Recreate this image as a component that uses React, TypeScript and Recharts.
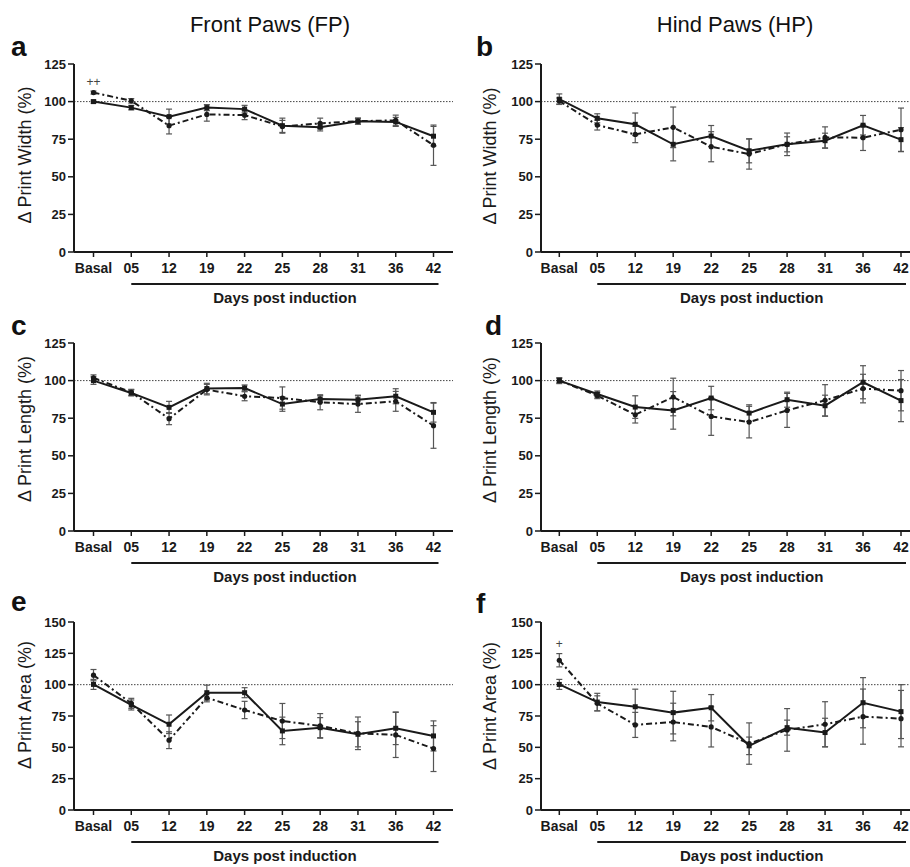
import React from 'react';
import { LineChart, Line, XAxis, YAxis, ErrorBar, ReferenceLine, LabelList } from 'recharts';

const days = ['Basal', '05', '12', '19', '22', '25', '28', '31', '36', '42'];
const ticks125 = [0, 25, 50, 75, 100, 125];
const ticks150 = [0, 25, 50, 75, 100, 125, 150];

// a: Front paws – print width
const fpWidthSolid = [100, 96, 90, 96, 95, 84, 83, 87, 86.5, 77];
const fpWidthSolidErr = [1, 1.5, 5, 2, 2.5, 5, 2.5, 2, 3, 6.5];
const fpWidthDash = [106, 100.5, 84, 91.5, 91, 83.5, 85.5, 87, 87.5, 71];
const fpWidthDashErr = [1, 1.5, 5.5, 4.5, 3, 4, 3.5, 2, 3.5, 13.4];
const fpWidthSig = ['++', '', '', '', '', '', '', '', '', ''];

// b: Hind paws – print width
const hpWidthSolid = [101.6, 88.9, 84.9, 71.6, 77.1, 67.3, 71.6, 74, 84.3, 74.7];
const hpWidthSolidErr = [3.5, 3, 7.5, 11, 7, 8, 7.5, 5, 6.5, 8];
const hpWidthDash = [100.4, 84.4, 78.2, 82.9, 70, 65.1, 71.6, 76.2, 76, 81.3];
const hpWidthDashErr = [2, 3.3, 5.5, 13.5, 10, 10, 5, 7, 8.5, 14.4];

// c: Front paws – print length
const fpLengthSolid = [100, 91.8, 82.2, 94.7, 95.1, 84.4, 87.8, 87.3, 89.6, 78.9];
const fpLengthSolidErr = [2.5, 2, 4, 3.5, 2, 4.8, 2.2, 3, 5, 6.5];
const fpLengthDash = [101.8, 92.2, 74.7, 94, 89.6, 88.4, 85.6, 84.4, 86.2, 70];
const fpLengthDashErr = [2, 2, 4, 3.5, 3, 7.4, 5, 5.5, 6.6, 15];

// d: Hind paws – print length
const hpLengthSolid = [100, 91.1, 82.4, 80.2, 88.4, 78.4, 87.3, 83.3, 98.9, 86.7];
const hpLengthSolidErr = [2, 2, 7.5, 12.5, 7.8, 5.5, 5, 7, 11, 14];
const hpLengthDash = [100, 90, 77.3, 89.1, 76.2, 72.4, 80.2, 86.9, 94.7, 93.3];
const hpLengthDashErr = [1.5, 2, 5.5, 12.5, 12.6, 10.5, 11.3, 10.4, 9.5, 13.4];

// e: Front paws – print area
const fpAreaSolid = [100.2, 83.8, 68.4, 93.6, 93.6, 63.1, 65.7, 60.4, 65.2, 59.1];
const fpAreaSolidErr = [4, 4, 7.4, 6, 4, 11, 8, 10, 13, 12];
const fpAreaDash = [107.6, 85.1, 55.7, 89.6, 79.8, 71, 67.1, 61.2, 59.9, 49];
const fpAreaDashErr = [4.5, 4, 6.7, 3.3, 6.9, 14, 9.8, 13, 18, 18.3];

// f: Hind paws – print area
const hpAreaSolid = [100.2, 86.1, 82.4, 77.7, 81.6, 51.2, 65.7, 61.8, 85.6, 78.5];
const hpAreaSolidErr = [4, 7, 14, 17, 10.5, 7, 6, 11.4, 20, 21.5];
const hpAreaDash = [119.5, 85.1, 67.9, 70.2, 66.3, 53, 63.9, 68.4, 74.5, 72.9];
const hpAreaDashErr = [5.3, 6, 10, 15, 16, 16.5, 17, 18, 22, 22.5];
const hpAreaSig = ['+', '', '', '', '', '', '', '', '', ''];

const noSig = ['', '', '', '', '', '', '', '', '', ''];

const FONT = 'Arial, "Liberation Sans", Helvetica, sans-serif';
const INK = '#1a1a1a';

const build = (s: number[], se: number[], d: number[], de: number[], sig: string[]) =>
  days.map((day, i) => ({ day, s: s[i], se: se[i], d: d[i], de: de[i], sig: sig[i] }));

const SquareDot = (p: any) => {
  if (p.cx == null || p.cy == null) return <g key={p.key} />;
  return <rect key={p.key} x={p.cx - 2.5} y={p.cy - 2.5} width={5} height={5} fill={INK} />;
};
const RoundDot = (p: any) => {
  if (p.cx == null || p.cy == null) return <g key={p.key} />;
  return <circle key={p.key} cx={p.cx} cy={p.cy} r={2.6} fill={INK} />;
};

const W = 455;
const H = 280;
const MT = 24;
const PH = 188;

type PanelProps = {
  data: any[];
  side: 'L' | 'R';
  top: number;
  yMax: number;
  yTicks: number[];
  yLabel: string;
  yLabelY: number;
  sigOffset: number;
};

function Panel({ data, side, top, yMax, yTicks, yLabel, yLabelY, sigOffset }: PanelProps) {
  const yW = side === 'L' ? 74 : 86;
  const mR = side === 'L' ? 2 : 0;
  const padL = side === 'L' ? 19.5 : 18.3;
  const padR = side === 'L' ? 19.5 : 9;
  const plotW = W - yW - mR;
  const step = (plotW - padL - padR) / (days.length - 1);
  const lineX1 = yW + padL + step;
  const lineX2 = yW + plotW - padR + 5;
  const plotBottom = MT + PH;
  const yLabX = side === 'L' ? 25 : 35;

  const xLabel = () => (
    <g>
      <line x1={lineX1} x2={lineX2} y1={plotBottom + 32} y2={plotBottom + 32} stroke={INK} strokeWidth={2} />
      <text
        x={(lineX1 + lineX2) / 2}
        y={plotBottom + 51}
        textAnchor="middle"
        fontFamily={FONT}
        fontSize={15}
        fontWeight="bold"
        fill={INK}
      >
        Days post induction
      </text>
    </g>
  );
  const yLab = () => (
    <text
      x={yLabX}
      y={yLabelY}
      transform={`rotate(-90 ${yLabX} ${yLabelY})`}
      textAnchor="middle"
      dominantBaseline="central"
      fontFamily={FONT}
      fontSize={18}
      fill={INK}
    >
      {yLabel}
    </text>
  );

  return (
    <div style={{ position: 'absolute', left: side === 'L' ? 0 : 455, top, width: W, height: H }}>
      <LineChart width={W} height={H} data={data} margin={{ top: MT, right: mR, bottom: 8, left: 0 }}>
        <XAxis
          dataKey="day"
          interval={0}
          height={60}
          padding={{ left: padL, right: padR }}
          axisLine={{ stroke: INK, strokeWidth: 2 }}
          tickLine={{ stroke: INK, strokeWidth: 1.5 }}
          tickSize={5}
          tickMargin={6}
          tick={{ fill: INK, fontSize: 14, fontWeight: 'bold', fontFamily: FONT }}
          label={xLabel}
        />
        <YAxis
          width={yW}
          domain={[0, yMax]}
          ticks={yTicks}
          interval={0}
          allowDataOverflow
          axisLine={{ stroke: INK, strokeWidth: 2 }}
          tickLine={{ stroke: INK, strokeWidth: 1.5 }}
          tickSize={6}
          tickMargin={2}
          tick={{ fill: INK, fontSize: 13, fontWeight: 'bold', fontFamily: FONT }}
          label={yLab}
        />
        <ReferenceLine y={100} stroke="#444" strokeWidth={1} strokeDasharray="1.5 1.5" />
        <Line
          dataKey="d"
          stroke={INK}
          strokeWidth={2}
          strokeDasharray="6 3 2 3"
          dot={RoundDot}
          activeDot={false}
          isAnimationActive={false}
        >
          <ErrorBar dataKey="de" width={3} stroke="#555" strokeWidth={1.2} direction="y" />
          <LabelList
            dataKey="sig"
            position="top"
            offset={sigOffset}
            fill="#444"
            fontSize={12}
            fontFamily={FONT}
          />
        </Line>
        <Line
          dataKey="s"
          stroke={INK}
          strokeWidth={2}
          dot={SquareDot}
          activeDot={false}
          isAnimationActive={false}
        >
          <ErrorBar dataKey="se" width={3} stroke="#555" strokeWidth={1.2} direction="y" />
        </Line>
      </LineChart>
    </div>
  );
}

const letterStyle = { fontFamily: FONT, fontSize: 28, fontWeight: 'bold' as const, fill: '#111' };

export default function App() {
  return (
    <div
      style={{
        position: 'absolute',
        left: 0,
        top: 0,
        width: 910,
        height: 867,
        overflow: 'hidden',
        background: '#fff',
      }}
    >
      <Panel data={build(fpWidthSolid, fpWidthSolidErr, fpWidthDash, fpWidthDashErr, fpWidthSig)} side="L" top={40} yMax={125} yTicks={ticks125} yLabel="Δ Print Width (%)" yLabelY={115} sigOffset={7} />
      <Panel data={build(hpWidthSolid, hpWidthSolidErr, hpWidthDash, hpWidthDashErr, noSig)} side="R" top={40} yMax={125} yTicks={ticks125} yLabel="Δ Print Width (%)" yLabelY={116} sigOffset={7} />
      <Panel data={build(fpLengthSolid, fpLengthSolidErr, fpLengthDash, fpLengthDashErr, noSig)} side="L" top={319} yMax={125} yTicks={ticks125} yLabel="Δ Print Length (%)" yLabelY={110} sigOffset={7} />
      <Panel data={build(hpLengthSolid, hpLengthSolidErr, hpLengthDash, hpLengthDashErr, noSig)} side="R" top={319} yMax={125} yTicks={ticks125} yLabel="Δ Print Length (%)" yLabelY={111} sigOffset={7} />
      <Panel data={build(fpAreaSolid, fpAreaSolidErr, fpAreaDash, fpAreaDashErr, noSig)} side="L" top={598} yMax={150} yTicks={ticks150} yLabel="Δ Print Area (%)" yLabelY={107} sigOffset={7} />
      <Panel data={build(hpAreaSolid, hpAreaSolidErr, hpAreaDash, hpAreaDashErr, hpAreaSig)} side="R" top={598} yMax={150} yTicks={ticks150} yLabel="Δ Print Area (%)" yLabelY={108} sigOffset={12} />
      <svg
        width={910}
        height={867}
        style={{ position: 'absolute', left: 0, top: 0, pointerEvents: 'none' }}
      >
        <text x={270} y={32} textAnchor="middle" fontFamily={FONT} fontSize={22} fill="#111">
          Front Paws (FP)
        </text>
        <text x={735} y={32} textAnchor="middle" fontFamily={FONT} fontSize={22} fill="#111">
          Hind Paws (HP)
        </text>
        <text x={11} y={56} {...letterStyle}>a</text>
        <text x={476} y={56} {...letterStyle}>b</text>
        <text x={11} y={335} {...letterStyle}>c</text>
        <text x={485} y={335} {...letterStyle}>d</text>
        <text x={11} y={611} {...letterStyle}>e</text>
        <text x={476} y={613} {...letterStyle}>f</text>
      </svg>
    </div>
  );
}
